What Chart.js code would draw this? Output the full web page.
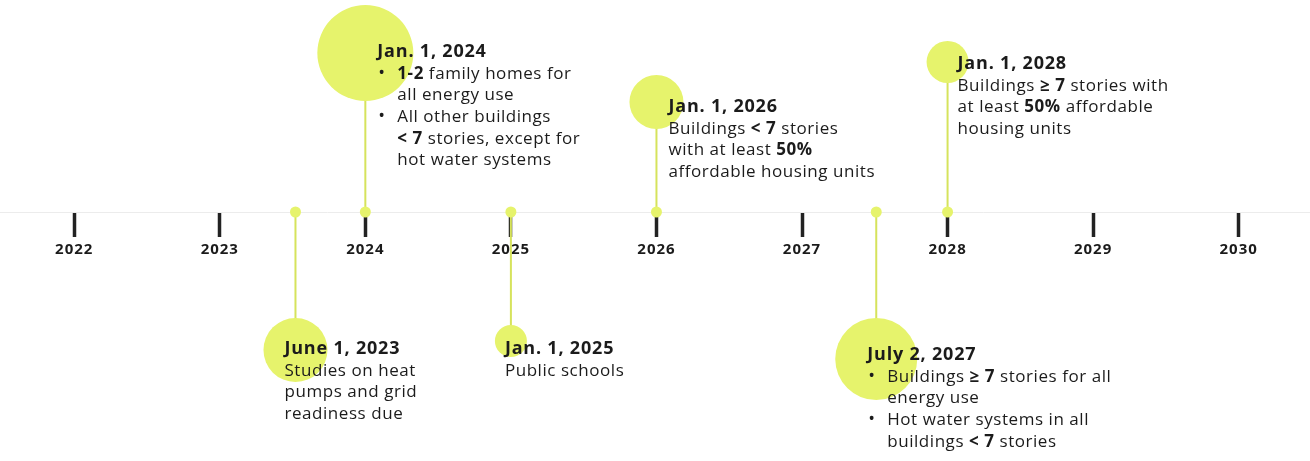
<!DOCTYPE html>
<html>
<head>
<meta charset="utf-8">
<script src="https://cdn.jsdelivr.net/npm/chart.js@4.4.1/dist/chart.umd.min.js"></script>
<style>
  html, body { margin: 0; padding: 0; background: #ffffff; }
  #wrap { position: relative; width: 1310px; height: 461px; }
</style>
</head>
<body>
<div id="wrap"><canvas id="c"></canvas></div>
<script>
// ---- data ----
const years = [2022, 2023, 2024, 2025, 2026, 2027, 2028, 2029, 2030];
const eventDates = [2023.52, 2024, 2025, 2026, 2027.51, 2028];
const eventHeights = [-138, 159, -129, 110, -147, 150];   // stem length above(+)/below(-) the axis
const eventSizes = [32, 48, 16, 27, 41, 21];               // circle radius
const eventTitles = ['June 1, 2023', 'Jan. 1, 2024', 'Jan. 1, 2025', 'Jan. 1, 2026', 'July 2, 2027', 'Jan. 1, 2028'];
const eventLines = [
  ['Studies on heat', 'pumps and grid', 'readiness due'],
  ['• **1-2** family homes for', '  all energy use', '• All other buildings', '  **< 7** stories, except for', '  hot water systems'],
  ['Public schools'],
  ['Buildings **< 7** stories', 'with at least **50%**', 'affordable housing units'],
  ['• Buildings **≥ 7** stories for all', '  energy use', '• Hot water systems in all', '  buildings **< 7** stories'],
  ['Buildings **≥ 7** stories with', 'at least **50%** affordable', 'housing units']
];

// ---- styles ----
const textOffsets = [[-11, -1], [12, -1], [-6, 8], [12, 5], [-9, -4], [10, 2]];
const FONT = '"Open Sans", "Noto Sans", sans-serif';
const LIME = '#e6f36c';
const STEM = '#d6e35c';
const INK = '#1b1b1b';

const stemSets = eventDates.map((d, i) => ({
  type: 'line',
  data: [{x: d, y: 0}, {x: d, y: eventHeights[i]}],
  borderColor: STEM,
  borderWidth: 2,
  pointRadius: 0,
  clip: false,
  order: 5
}));

const spacingPlugin = {
  id: 'spacing',
  beforeDraw(chart) { chart.ctx.letterSpacing = '1px'; }
};

const textPlugin = {
  id: 'eventText',
  afterDatasetsDraw(chart) {
    const {ctx, scales: {x, y}} = chart;
    ctx.save();
    ctx.fillStyle = INK;
    ctx.textBaseline = 'middle';
    ctx.textAlign = 'left';
    eventDates.forEach((d, i) => {
      const tx = x.getPixelForValue(d) + textOffsets[i][0];
      const ty = y.getPixelForValue(eventHeights[i]) + textOffsets[i][1];
      ctx.letterSpacing = '0.8px';
      ctx.font = '700 18px ' + FONT;
      ctx.fillText(eventTitles[i], tx, ty);
      ctx.letterSpacing = '0.55px';
      eventLines[i].forEach((line, j) => {
        const ly = ty + 22 + j * 21.6;
        let cx = tx;
        let body = line;
        if (body.startsWith('• ')) {
          ctx.font = '400 18px ' + FONT;
          ctx.fillText('•', tx + 1, ly);
          body = body.slice(2);
          cx = tx + 20;
        } else if (body.startsWith('  ')) {
          body = body.slice(2);
          cx = tx + 20;
        }
        const parts = body.split('**');
        parts.forEach((p, k) => {
          ctx.font = (k % 2 ? '700 ' : '400 ') + '17px ' + FONT;
          ctx.fillText(p, cx, ly);
          cx += ctx.measureText(p).width;
        });
      });
    });
    ctx.restore();
  }
};

new Chart(document.getElementById('c'), {
  type: 'bubble',
  data: {
    datasets: [
      ...stemSets,
      {
        type: 'bubble',
        data: eventDates.map((d, i) => ({x: d, y: eventHeights[i], r: eventSizes[i]})),
        backgroundColor: LIME,
        borderWidth: 0,
        clip: false,
        order: 3
      },
      {
        type: 'bubble',
        data: eventDates.map(d => ({x: d, y: 0, r: 5.5})),
        backgroundColor: LIME,
        borderWidth: 0,
        clip: false,
        order: 1
      }
    ]
  },
  options: {
    responsive: true,
    maintainAspectRatio: false,
    animation: false,
    events: [],
    layout: { padding: 0, autoPadding: false },
    plugins: { legend: { display: false }, tooltip: { enabled: false } },
    scales: {
      x: {
        type: 'linear',
        min: 2021.49,
        max: 2030.49,
        position: { y: 0 },
        afterBuildTicks: s => { s.ticks = years.map(v => ({value: v})); },
        grid: { drawOnChartArea: false, drawTicks: true, tickLength: 24, tickWidth: 3.5, tickColor: '#222' },
        border: { display: true, color: '#ececec', width: 1, dash: [2, 14] },
        ticks: {
          font: { family: FONT, size: 15, weight: '700' },
          color: INK,
          padding: 5,
          maxRotation: 0,
          autoSkip: false,
          callback: v => String(v)
        }
      },
      y: {
        type: 'linear',
        display: false,
        min: -249,
        max: 212
      }
    }
  },
  plugins: [spacingPlugin, textPlugin]
});
</script>
</body>
</html>
